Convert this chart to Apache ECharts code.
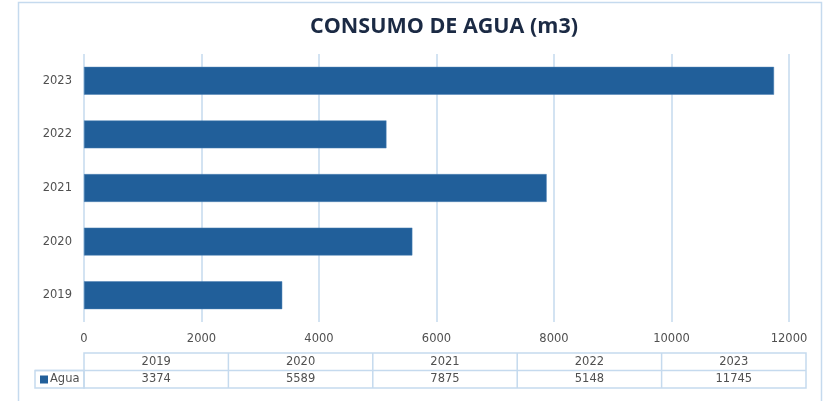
<!DOCTYPE html>
<html>
<head>
<meta charset="utf-8">
<script src="https://cdn.jsdelivr.net/npm/echarts@6/dist/echarts.min.js"></script>
<style>
  html, body { margin: 0; padding: 0; background: #fff; }
  #chart { width: 824px; height: 401px; }
</style>
</head>
<body>
<div id="chart"></div>
<script>
const years = ["2019", "2020", "2021", "2022", "2023"];
const agua = [3374, 5589, 7875, 5148, 11745];
const xTicks = [0, 2000, 4000, 6000, 8000, 10000, 12000];
const seriesName = "Agua";

const barColor = "#215F9A";
const lineColor = "#C5DAEE";
const textColor = "#505050";
const labelFont = "DejaVu Sans";

const chart = echarts.init(document.getElementById("chart"));

// data table under the axis
const tableLeft = 84;
const tableRight = 806;
const tableTop = 353;
const rowH = 17.5;
const colW = (tableRight - tableLeft) / years.length;
const tableFont = "11.5px " + labelFont;

const tableGraphics = [];
tableGraphics.push({
  type: "rect",
  shape: { x: 18.5, y: 2.5, width: 803, height: 420 },
  style: { fill: "none", stroke: lineColor, lineWidth: 1.5 },
  silent: true,
});
tableGraphics.push({
  type: "rect",
  shape: { x: tableLeft, y: tableTop, width: tableRight - tableLeft, height: rowH * 2 },
  style: { fill: "none", stroke: lineColor, lineWidth: 1.5 },
});
tableGraphics.push({
  type: "rect",
  shape: { x: 35, y: tableTop + rowH, width: tableLeft - 35, height: rowH },
  style: { fill: "none", stroke: lineColor, lineWidth: 1.5 },
});
tableGraphics.push({
  type: "line",
  shape: { x1: 35, y1: tableTop + rowH, x2: tableRight, y2: tableTop + rowH },
  style: { stroke: lineColor, lineWidth: 1.5 },
});
years.forEach((y, i) => {
  if (i > 0) {
    tableGraphics.push({
      type: "line",
      shape: { x1: tableLeft + colW * i, y1: tableTop, x2: tableLeft + colW * i, y2: tableTop + rowH * 2 },
      style: { stroke: lineColor, lineWidth: 1.5 },
    });
  }
  tableGraphics.push({
    type: "text",
    x: tableLeft + colW * (i + 0.5),
    y: tableTop + rowH / 2,
    style: { text: y, fill: textColor, font: tableFont, align: "center", verticalAlign: "middle" },
  });
  tableGraphics.push({
    type: "text",
    x: tableLeft + colW * (i + 0.5),
    y: tableTop + rowH * 1.5,
    style: { text: String(agua[i]), fill: textColor, font: tableFont, align: "center", verticalAlign: "middle" },
  });
});
tableGraphics.push({
  type: "rect",
  shape: { x: 40, y: tableTop + rowH + 5, width: 8, height: 8 },
  style: { fill: barColor },
});
tableGraphics.push({
  type: "text",
  x: 50,
  y: tableTop + rowH * 1.5,
  style: { text: seriesName, fill: textColor, font: tableFont, align: "left", verticalAlign: "middle" },
});

const option = {
  animation: false,
  title: {
    text: "CONSUMO DE AGUA (m3)",
    left: 439,
    textAlign: "center",
    top: 11,
    textStyle: {
      fontFamily: "Open Sans",
      fontWeight: "bold",
      fontSize: 21.5,
      color: "#1B2A44",
    },
  },
  grid: {
    left: 84,
    right: 824 - 789,
    top: 54,
    bottom: 401 - 322,
  },
  xAxis: {
    type: "value",
    min: 0,
    max: xTicks[xTicks.length - 1],
    interval: xTicks[1] - xTicks[0],
    axisLine: { show: false },
    axisTick: { show: false },
    axisLabel: {
      color: textColor,
      fontSize: 11.5,
      fontFamily: labelFont,
      margin: 11,
      formatter: (v) => String(v),
    },
    splitLine: { lineStyle: { color: lineColor, width: 1.5 } },
  },
  yAxis: {
    type: "category",
    data: years,
    axisLine: { show: false },
    axisTick: { show: false },
    axisLabel: { color: textColor, fontSize: 11.5, fontFamily: labelFont, margin: 12 },
  },
  series: [
    {
      name: seriesName,
      type: "bar",
      data: agua,
      barCategoryGap: "48%",
      itemStyle: { color: barColor, borderColor: "#4C80B5", borderWidth: 0.5 },
    },
  ],
  graphic: tableGraphics,
};

chart.setOption(option);
window.addEventListener("resize", () => {
  chart.resize();
});
</script>
</body>
</html>
